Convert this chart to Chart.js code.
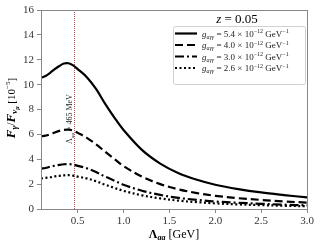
<!DOCTYPE html>
<html>
<head>
<meta charset="utf-8">
<script src="https://cdn.jsdelivr.net/npm/chart.js@4.4.1/dist/chart.umd.min.js"></script>
<style>
  html, body { margin: 0; padding: 0; background: #fff; }
  #wrap { width: 321px; height: 247px; }
</style>
</head>
<body>
<div id="wrap"><canvas id="myChart" width="321" height="247"></canvas></div>
<script>
// Lambda_aa in GeV
const lambdaGeV = [0.1, 0.15, 0.2, 0.25, 0.3, 0.35, 0.4, 0.45, 0.5, 0.6, 0.7, 0.8, 0.9, 1.0, 1.2, 1.4, 1.6, 1.8, 2.0, 2.25, 2.5, 2.75, 3.0];
// F_gamma / F_nu_mu in units of 1e-5
const fluxG54 = [10.55, 10.7, 10.95, 11.25, 11.5, 11.7, 11.72, 11.55, 11.25, 10.6, 9.65, 8.45, 7.35, 6.35, 4.75, 3.65, 2.88, 2.35, 1.95, 1.6, 1.33, 1.12, 0.93];
const fluxG40 = [5.85, 5.9, 6.0, 6.15, 6.28, 6.36, 6.38, 6.3, 6.12, 5.72, 5.2, 4.6, 4.02, 3.45, 2.6, 2.0, 1.58, 1.28, 1.06, 0.87, 0.73, 0.61, 0.51];
const fluxG30 = [3.25, 3.3, 3.4, 3.48, 3.55, 3.6, 3.61, 3.57, 3.47, 3.27, 2.97, 2.6, 2.28, 1.95, 1.47, 1.13, 0.89, 0.73, 0.6, 0.5, 0.42, 0.35, 0.29];
const fluxG26 = [2.45, 2.5, 2.55, 2.62, 2.67, 2.71, 2.72, 2.68, 2.6, 2.46, 2.23, 1.95, 1.7, 1.46, 1.1, 0.85, 0.67, 0.55, 0.45, 0.37, 0.31, 0.26, 0.22];
const couplings = ['5.4', '4.0', '3.0', '2.6'];
const lambdaMarker = 0.465;
const xTicks = [0.5, 1.0, 1.5, 2.0, 2.5, 3.0];

const serif = '"Liberation Serif", "DejaVu Serif", serif';

function pts(arr) {
    return lambdaGeV.map((x, i) => ({ x: x, y: arr[i] }));
}

const dashes = [[], [8, 4], [9, 3, 2, 3], [2, 2.5]];

const datasets = [fluxG54, fluxG40, fluxG30, fluxG26].map((arr, i) => ({
    label: couplings[i],
    data: pts(arr),
    borderColor: '#000',
    borderWidth: 2.2,
    borderDash: dashes[i],
    pointRadius: 0,
    tension: 0.35,
    fill: false
}));

datasets.push({
    label: 'marker',
    data: [{ x: lambdaMarker, y: 0 }, { x: lambdaMarker, y: 16 }],
    borderColor: '#ee3a3a',
    borderWidth: 1,
    borderDash: [1, 1],
    pointRadius: 0
});

// draw text in pieces (sub/superscripts)
function rich(ctx, parts, x, y, align) {
    let w = 0;
    parts.forEach(p => { ctx.font = p.f; w += ctx.measureText(p.t).width; });
    let cx = align === 'center' ? x - w / 2 : x;
    parts.forEach(p => {
        ctx.font = p.f;
        ctx.fillText(p.t, cx, y + (p.dy || 0));
        cx += ctx.measureText(p.t).width;
    });
}

const decor = {
    id: 'decor',
    afterDraw(chart) {
        const ctx = chart.ctx;
        const a = chart.chartArea;
        ctx.save();
        // frame
        ctx.strokeStyle = '#888';
        ctx.lineWidth = 1;
        ctx.strokeRect(a.left + 0.5, a.top + 0.5, a.right - a.left, a.bottom - a.top);

        ctx.fillStyle = '#000';
        ctx.textBaseline = 'alphabetic';

        // x label
        rich(ctx, [
            { t: 'Λ', f: 'bold 12px ' + serif },
            { t: 'aa', f: 'bold italic 8px ' + serif, dy: 2 },
            { t: ' [GeV]', f: '12px ' + serif }
        ], 174, 238, 'center');

        // y label
        ctx.save();
        ctx.translate(15, 108);
        ctx.rotate(-Math.PI / 2);
        rich(ctx, [
            { t: 'F', f: 'bold italic 13px ' + serif },
            { t: 'γ', f: 'bold italic 9px ' + serif, dy: 2 },
            { t: '/', f: '12px ' + serif },
            { t: 'F', f: 'bold italic 13px ' + serif },
            { t: 'ν', f: 'bold italic 9px ' + serif, dy: 2 },
            { t: 'μ', f: 'bold italic 6px ' + serif, dy: 4 },
            { t: ' [10', f: '11px ' + serif },
            { t: '−5', f: '7px ' + serif, dy: -5 },
            { t: ']', f: '11px ' + serif }
        ], 0, 0, 'center');
        ctx.restore();

        // marker label
        ctx.save();
        const mx = chart.scales.x.getPixelForValue(lambdaMarker);
        ctx.translate(mx - 2, 119);
        ctx.rotate(-Math.PI / 2);
        ctx.fillStyle = '#222';
        rich(ctx, [
            { t: 'Λ', f: '8px ' + serif },
            { t: 'aa', f: 'italic 5px ' + serif, dy: 1.5 },
            { t: ' = 465 MeV', f: '8px ' + serif }
        ], 0, 0, 'center');
        ctx.restore();

        // legend title
        rich(ctx, [
            { t: 'z', f: 'italic 13px ' + serif },
            { t: ' = 0.05', f: '13px ' + serif }
        ], 237, 23, 'center');

        // legend box
        const bx = 173.5, by = 26.5, bw = 132, bh = 58;
        ctx.fillStyle = 'rgba(255,255,255,0.9)';
        ctx.strokeStyle = '#d0d0d0';
        ctx.beginPath();
        ctx.roundRect(bx, by, bw, bh, 2);
        ctx.fill();
        ctx.stroke();

        const rows = [33.5, 45, 56.5, 68];
        rows.forEach((ry, i) => {
            ctx.strokeStyle = '#000';
            ctx.lineWidth = 2.2;
            ctx.setLineDash(dashes[i]);
            ctx.beginPath();
            ctx.moveTo(175, ry);
            ctx.lineTo(197, ry);
            ctx.stroke();
            ctx.setLineDash([]);
            ctx.fillStyle = '#222';
            rich(ctx, [
                { t: 'g', f: 'italic 9px ' + serif },
                { t: 'aγγ', f: 'italic 6px ' + serif, dy: 2 },
                { t: ' = ' + couplings[i] + ' × 10', f: '9px ' + serif },
                { t: '−12', f: '6px ' + serif, dy: -3.5 },
                { t: ' GeV', f: '9px ' + serif },
                { t: '−1', f: '6px ' + serif, dy: -3.5 }
            ], 202, ry + 3, 'left');
        });
        ctx.restore();
    }
};

const ctx = document.getElementById('myChart').getContext('2d');
new Chart(ctx, {
    type: 'line',
    data: { datasets: datasets },
    options: {
        responsive: false,
        animation: false,
        layout: { padding: { top: 10, right: 14, left: 0, bottom: 0 } },
        plugins: { legend: { display: false }, tooltip: { enabled: false } },
        scales: {
            x: {
                type: 'linear',
                min: 0.1,
                max: 3.0,
                afterBuildTicks: function(scale) {
                    scale.ticks = xTicks.map(v => ({ value: v }));
                },
                afterFit: function(scale) { scale.height = 38; },
                ticks: {
                    callback: v => v.toFixed(1),
                    font: { family: serif, size: 11 },
                    color: '#333',
                    padding: 2,
                    maxRotation: 0
                },
                grid: { drawOnChartArea: false, tickLength: 4, color: '#888' },
                border: { color: '#888' }
            },
            y: {
                min: 0,
                max: 16,
                ticks: {
                    stepSize: 2,
                    font: { family: serif, size: 11 },
                    color: '#333',
                    padding: 3
                },
                afterFit: function(scale) { scale.width = 41; },
                grid: { drawOnChartArea: false, tickLength: 4, color: '#888' },
                border: { color: '#888' }
            }
        }
    },
    plugins: [decor]
});
</script>
</body>
</html>
